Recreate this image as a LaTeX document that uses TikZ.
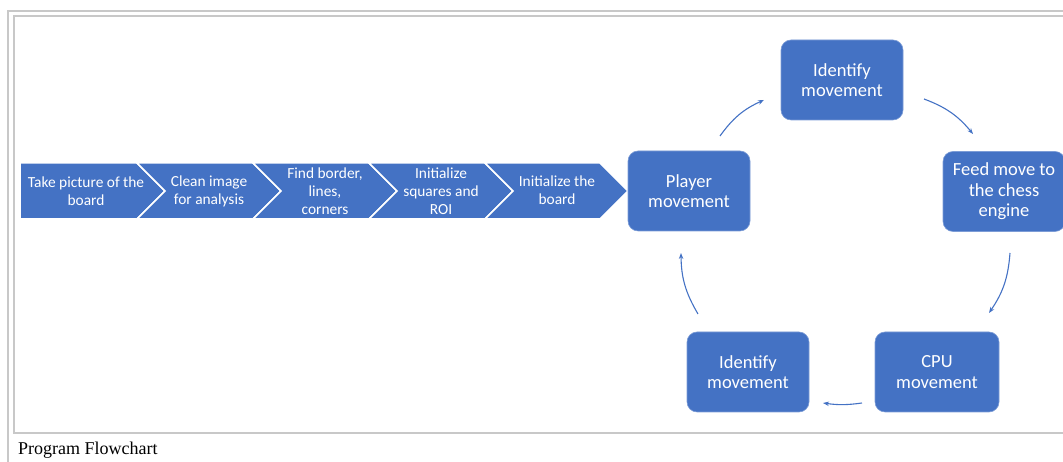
\documentclass[tikz,border=0pt]{standalone}
\usepackage{fontspec}
\setmainfont{Carlito}
\newfontfamily\capfont{Liberation Serif}
\usetikzlibrary{arrows.meta}
\definecolor{offblue}{HTML}{4472C4}
\definecolor{framegray}{HTML}{C8C8C8}
\begin{document}
\begin{tikzpicture}[x=1pt,y=1pt,
  chev/.style={fill=offblue,draw=white,line width=1.5pt,line join=miter},
  chevtext/.style={text=white,font=\fontsize{15.4}{18}\selectfont,align=center,inner sep=0pt},
  roundbox/.style={fill=offblue,draw=offblue!70!white,line width=0.6pt,rounded corners=10pt,minimum width=122pt,minimum height=80pt,text=white,font=\fontsize{18.5}{20.5}\selectfont,align=center,inner sep=2pt},
  flow/.style={draw=offblue,line width=1.1pt,-{Stealth[length=6pt,width=4.5pt]}},
  frame/.style={draw=framegray,line width=1.5pt}]
\useasboundingbox (0,0) rectangle (1063,462);
% frame
\draw[frame] (8,0) -- (8,451) -- (1063,451);
\draw[frame] (1063,446) -- (14,446) -- (14,29) -- (1063,29);
% chevrons
\draw[chev] (20,299) -- (137,299) -- (165,271) -- (137,243) -- (20,243) -- cycle;
\draw[chev] (137,299) -- (253,299) -- (281,271) -- (253,243) -- (137,243) -- (165,271) -- cycle;
\draw[chev] (253,299) -- (369,299) -- (397,271) -- (369,243) -- (253,243) -- (281,271) -- cycle;
\draw[chev] (369,299) -- (485,299) -- (513,271) -- (485,243) -- (369,243) -- (397,271) -- cycle;
\draw[chev] (485,299) -- (600,299) -- (628,271) -- (600,243) -- (485,243) -- (513,271) -- cycle;
\node[chevtext] (c1) at (86,271) {Take picture of the\\board};
\node[chevtext] (c2) at (209,271) {Clean image\\for analysis};
\node[chevtext] (c3) at (325,271) {Find border,\\lines,\\corners};
\node[chevtext] (c4) at (441,271) {Initialize\\squares and\\ROI};
\node[chevtext] (c5) at (557,272) {Initialize the\\board};
% boxes
\node[roundbox] (player) at (689,271) {Player\\movement};
\node[roundbox] (idtop) at (842,382) {Identify\\movement};
\node[roundbox] (feed) at (1004,270.5) {Feed move to\\the chess\\engine};
\node[roundbox, minimum width=124pt] (cpu) at (937,90) {CPU\\movement};
\node[roundbox] (idbot) at (748,90) {Identify\\movement};
% arrow ends
\coordinate (a1s) at (720,326); \coordinate (a1e) at (764,362);
\coordinate (a2s) at (924,363); \coordinate (a2e) at (973,328);
\coordinate (a3s) at (1010,209); \coordinate (a3e) at (989,149);
\coordinate (a4s) at (862,59); \coordinate (a4e) at (823,59);
\coordinate (a5s) at (698,148); \coordinate (a5e) at (681,209);
\draw[flow] (a1s) to[bend left=15] (a1e);
\draw[flow] (a2s) to[bend left=15] (a2e);
\draw[flow] (a3s) to[bend left=15] (a3e);
\draw[flow] (a4s) to[bend left=8] (a4e);
\draw[flow] (a5s) to[bend left=15] (a5e);
% caption
\node[anchor=base west,inner sep=0pt,font=\capfont\fontsize{18}{20}\selectfont] (cap) at (18,7) {Program Flowchart};
\end{tikzpicture}
\end{document}
